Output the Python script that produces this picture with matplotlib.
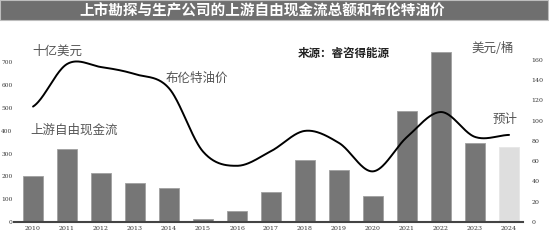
import numpy as np
import matplotlib
matplotlib.use("Agg")
import matplotlib.pyplot as plt
from matplotlib.patches import Rectangle

plt.rcParams['font.family'] = ['Noto Sans CJK SC', 'DejaVu Sans']

years = ["2010", "2011", "2012", "2013", "2014", "2015", "2016", "2017",
         "2018", "2019", "2020", "2021", "2022", "2023", "2024"]
fcf = [200, 318, 214, 172, 149, 12, 47, 132, 273, 228, 113, 487, 745, 346, 330]
brent = [114, 156, 153, 146, 132, 69.5, 55.5, 70, 90, 78, 50, 84, 108.6, 84, 86]
left_ticks = [0, 100, 200, 300, 400, 500, 600, 700]
right_ticks = [0, 20, 40, 60, 80, 100, 120, 140, 160]

title = "上市勘探与生产公司的上游自由现金流总额和布伦特油价"

fig = plt.figure(figsize=(5.5, 2.4), dpi=100)
fig.patch.set_facecolor("white")

# title bar
fig.patches.append(Rectangle((0, 220 / 240), 548 / 550, 20 / 240, transform=fig.transFigure,
                             facecolor="#6f6f6f", edgecolor="#bdbdbd", lw=0.8, zorder=0))
fig.text(0.477, 0.958, title, color="white", fontsize=10.5, fontweight="bold",
         ha="center", va="center")

ax = fig.add_axes([14 / 550, 18 / 240, 509 / 550, 192 / 240])
x = np.arange(len(years))
colors = ["#767676"] * (len(years) - 1) + ["#dedede"]
edges = ["#a0a0a0"] * (len(years) - 1) + ["#e6e6e6"]
ax.bar(x, fcf, width=0.6, color=colors, edgecolor=edges, linewidth=0.6, zorder=2)
ax.set_xlim(-0.56, 14.41)
ax.set_ylim(0, 842)
ax.set_xticks(x)
ax.set_xticklabels(years, fontsize=4.5, color="#333333", family="DejaVu Serif")
ax.set_yticks(left_ticks)
ax.set_yticklabels([str(t) for t in left_ticks], fontsize=4.2, color="#333333", family="DejaVu Serif")
ax.tick_params(axis="x", length=0, pad=3)
ax.tick_params(axis="y", length=0, pad=1)
for s in ["top", "right", "left"]:
    ax.spines[s].set_visible(False)
ax.spines["bottom"].set_color("#444444")
ax.spines["bottom"].set_linewidth(1.5)
ax.spines["bottom"].set_zorder(3)

ax2 = ax.twinx()
ax2.set_ylim(0, 189.6)
ax2.set_yticks(right_ticks)
ax2.set_yticklabels([str(t) for t in right_ticks], fontsize=4.5, color="#333333", family="DejaVu Serif")
ax2.tick_params(axis="y", length=0, pad=6)
for s in ["top", "right", "left", "bottom"]:
    ax2.spines[s].set_visible(False)

# smooth curve through the data points (Catmull-Rom rendering, like a smoothed line chart)
px = x.astype(float)
py = np.array(brent, dtype=float)
P = np.concatenate([[py[0]], py, [py[-1]]])
cx, cy = [], []
for i in range(len(py) - 1):
    t = np.linspace(0, 1, 40)
    p0, p1, p2, p3 = P[i], P[i + 1], P[i + 2], P[i + 3]
    m1 = (p2 - p0) / 2
    m2 = (p3 - p1) / 2
    h00 = 2 * t ** 3 - 3 * t ** 2 + 1
    h10 = t ** 3 - 2 * t ** 2 + t
    h01 = -2 * t ** 3 + 3 * t ** 2
    h11 = t ** 3 - t ** 2
    cx.extend(px[i] + t)
    cy.extend(h00 * p1 + h10 * m1 + h01 * p2 + h11 * m2)
ax2.plot(cx, cy, color="black", lw=1.4, zorder=4, solid_capstyle="round")

# annotations
fig.text(32 / 550, 1 - 51 / 240, "十亿美元", fontsize=9, color="#555555", va="center", ha="left")
fig.text(166 / 550, 1 - 78 / 240, "布伦特油价", fontsize=9, color="#555555", va="center", ha="left")
fig.text(30 / 550, 1 - 130 / 240, "上游自由现金流", fontsize=9, color="#555555", va="center", ha="left")
fig.text(298 / 550, 1 - 53 / 240, "来源：睿咨得能源", fontsize=8.3, color="#222222", va="center",
         ha="left", fontweight="bold")
fig.text(471 / 550, 1 - 48 / 240, "美元/桶", fontsize=9, color="#555555", va="center", ha="left")
fig.text(493 / 550, 1 - 119 / 240, "预计", fontsize=9, color="#555555", va="center", ha="left")

fig.savefig("out.png", dpi=100, facecolor="white")
